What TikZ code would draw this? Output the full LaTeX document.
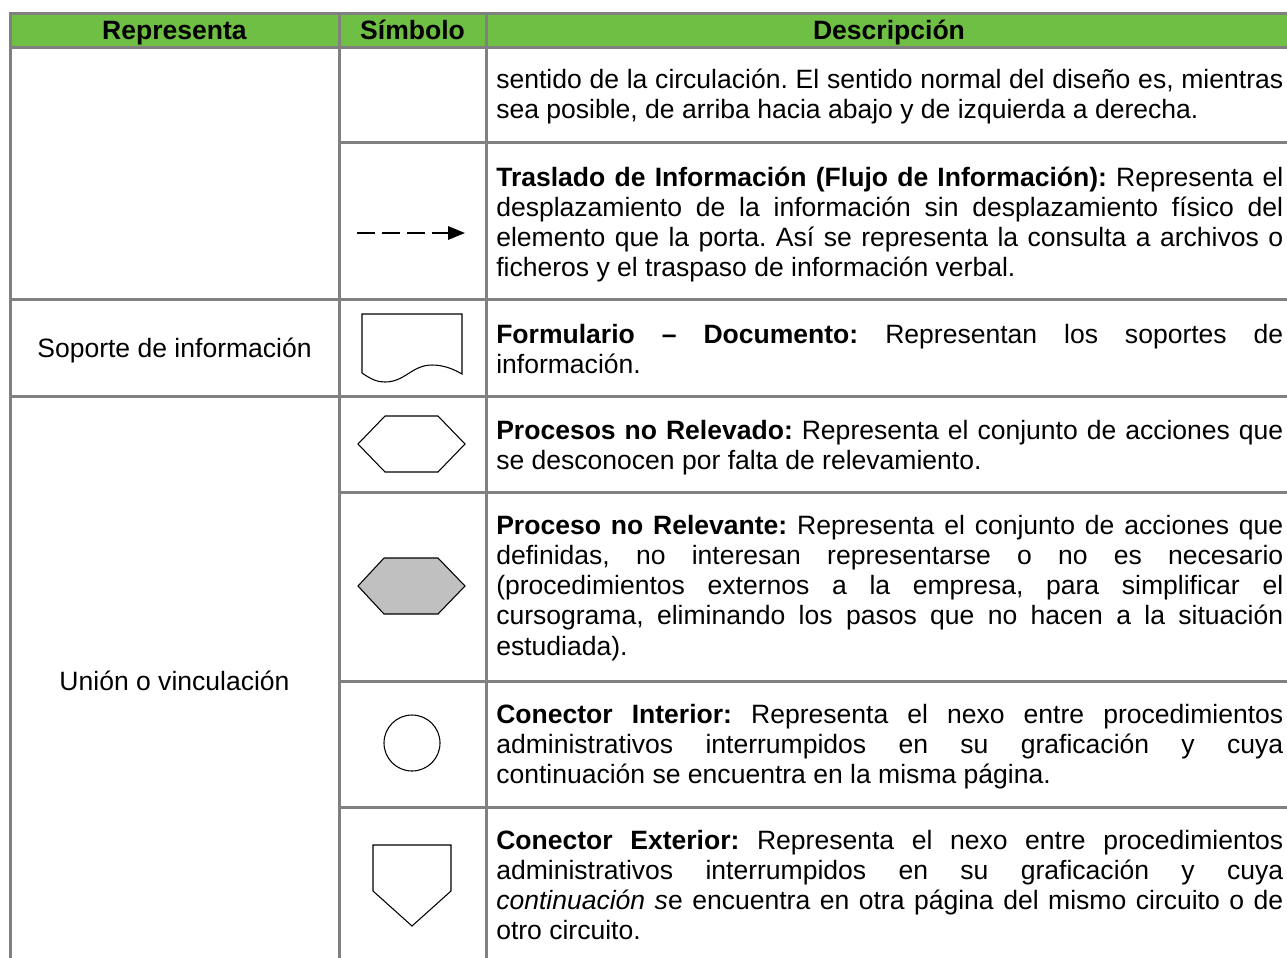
\documentclass[tikz,border=0pt]{standalone}
\usepackage{fontspec}
\setmainfont{Liberation Sans}
\usetikzlibrary{arrows.meta}
\definecolor{gridc}{RGB}{128,128,128}
\definecolor{hdrc}{RGB}{112,191,69}
\definecolor{hexc}{RGB}{192,192,192}
\newcommand\jline[1]{\makebox[\linewidth][s]{#1}\par}
\newcommand\bodyfont{\fontsize{19.9pt}{22.7pt}\selectfont}
\frenchspacing
\begin{document}
\begin{tikzpicture}[x=0.75pt,y=-0.75pt,
  gridline/.style={draw=gridc,line width=2.25pt,line cap=rect},
  desc/.style={anchor=base west,inner sep=0pt,text width=590.25pt,align=justify,font=\bodyfont},
  hdrtext/.style={anchor=base,inner sep=0pt,font=\bodyfont\bfseries},
  lefttext/.style={anchor=base,inner sep=0pt,font=\bodyfont},
  symline/.style={draw=black,line width=0.8pt,line join=miter}]
\useasboundingbox (0,0) rectangle (1287,957);
% header background
\fill[hdrc] (10,13) rectangle (1292,47);
% grid
\draw[gridline] (10,13) -- (1292,13);
\draw[gridline] (10,47) -- (1292,47);
\draw[gridline] (10,299) -- (1292,299);
\draw[gridline] (10,396) -- (1292,396);
\draw[gridline] (339,142) -- (1292,142);
\draw[gridline] (339,492) -- (1292,492);
\draw[gridline] (339,681) -- (1292,681);
\draw[gridline] (339,807) -- (1292,807);
\draw[gridline] (10,13) -- (10,962);
\draw[gridline] (339,13) -- (339,962);
\draw[gridline] (486,13) -- (486,962);
% header texts
\node[hdrtext] (h1) at (174.5,39) {Representa};
\node[hdrtext] (h2) at (412.5,39) {Símbolo};
\node[hdrtext] (h3) at (889,39) {Descripción};
% left column
\node[lefttext] (l1) at (174.5,357) {Soporte de información};
\node[lefttext] (l2) at (174.5,690) {Unión o vinculación};
% descriptions
\node[desc] (d1) at (496,88) {\jline{sentido de la circulación. El sentido normal del diseño es, mientras}
sea posible, de arriba hacia abajo y de izquierda a derecha.};
\node[desc] (d2) at (496,186) {\jline{\textbf{Traslado de Información (Flujo de Información):} Representa el}
\jline{desplazamiento de la información sin desplazamiento físico del}
\jline{elemento que la porta. Así se representa la consulta a archivos o}
ficheros y el traspaso de información verbal.};
\node[desc] (d3) at (496,343) {\jline{\textbf{Formulario – Documento:} Representan los soportes de}
información.};
\node[desc] (d4) at (496,439) {\jline{\textbf{Procesos no Relevado:} Representa el conjunto de acciones que}
se desconocen por falta de relevamiento.};
\node[desc] (d5) at (496,534) {\jline{\textbf{Proceso no Relevante:} Representa el conjunto de acciones que}
\jline{definidas, no interesan representarse o no es necesario}
\jline{(procedimientos externos a la empresa, para simplificar el}
\jline{cursograma, eliminando los pasos que no hacen a la situación}
estudiada).};
\node[desc] (d6) at (496,723) {\jline{\textbf{Conector Interior:} Representa el nexo entre procedimientos}
\jline{administrativos interrumpidos en su graficación y cuya}
continuación se encuentra en la misma página.};
\node[desc] (d7) at (496,849) {\jline{\textbf{Conector Exterior:} Representa el nexo entre procedimientos}
\jline{administrativos interrumpidos en su graficación y cuya}
\jline{\textit{continuación s}e encuentra en otra página del mismo circuito o de}
otro circuito.};
% symbols
\coordinate (af) at (357,233);
\coordinate (at) at (465,233);
\draw[line width=1.7pt,dash pattern=on 13.5pt off 5.25pt,-{Triangle[length=12.75pt,width=10pt]}] (af) -- (at);
% document
\draw[symline] (362,373) -- (362,314) -- (462,314) -- (462,374)
  .. controls (455,370) and (445,365) .. (432,365)
  .. controls (412,365) and (405,382) .. (385,382)
  .. controls (378,382) and (372,380) .. (362,373);
% hexagons
\draw[symline] (358,444) -- (385,416) -- (438,416) -- (465,444) -- (438,472) -- (385,472) -- cycle;
\draw[symline,fill=hexc] (358,586) -- (384,558) -- (438,558) -- (465,586) -- (438,614) -- (384,614) -- cycle;
% circle
\draw[symline] (412,743) circle[radius=28];
% pentagon
\draw[symline] (373,845) -- (451,845) -- (451,891) -- (412,926) -- (373,891) -- cycle;
\end{tikzpicture}
\end{document}
